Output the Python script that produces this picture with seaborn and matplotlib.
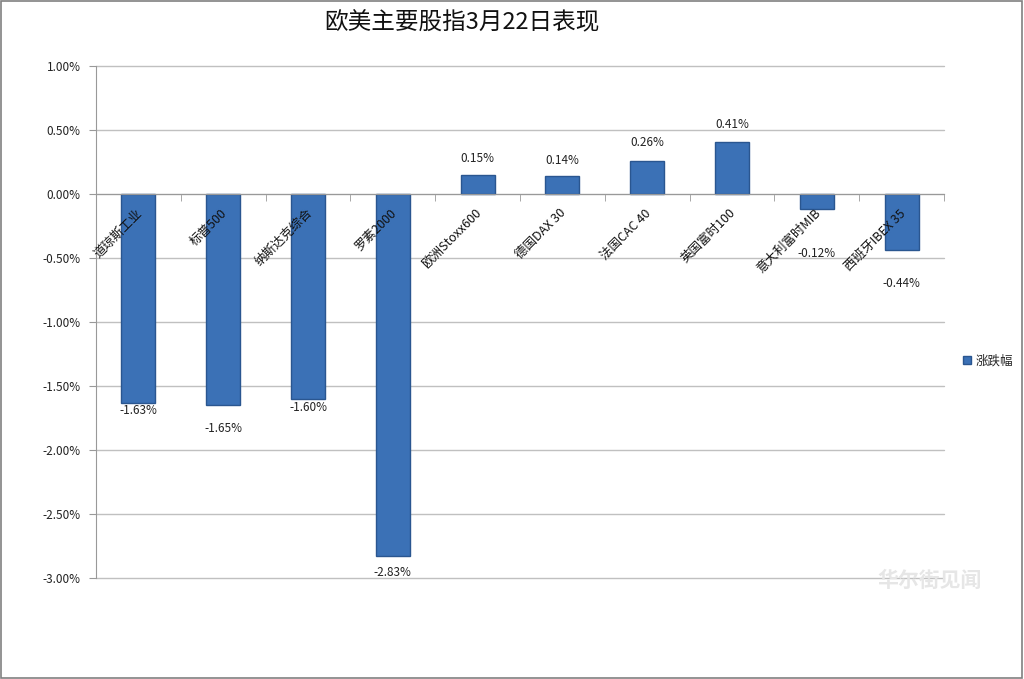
import pandas as pd
import matplotlib.pyplot as plt
import seaborn as sns
from matplotlib.patches import Rectangle, Patch
from matplotlib.ticker import FuncFormatter, FixedLocator

# data
indices = ['道琼斯工业', '标普500', '纳斯达克综合', '罗素2000', '欧洲Stoxx600',
           '德国DAX 30', '法国CAC 40', '英国富时100', '意大利富时MIB', '西班牙IBEX 35']
changes = [-1.63, -1.65, -1.60, -2.83, 0.15, 0.14, 0.26, 0.41, -0.12, -0.44]
series_name = '涨跌幅'
title = '欧美主要股指3月22日表现'

# label offsets below/above bar ends (points), as placed in the original chart
label_offsets = [6, 17, 6, 12, 12, 11, 13, 12, 32, 24]

data = pd.DataFrame({'index': indices, 'change': changes})

sns.set_style('white')
plt.rcParams['font.family'] = ['Noto Sans CJK SC', 'DejaVu Sans']

fig = plt.figure(figsize=(10.24, 6.79), dpi=100)
ax = fig.add_axes([96 / 1024, 1 - 578 / 679, 848 / 1024, 512 / 679])

bar_color = '#3b71b6'
sns.barplot(x='index', y='change', data=data, color=bar_color, width=0.4,
            edgecolor='#2a5690', linewidth=1, ax=ax, saturation=1, zorder=2)

ax.set_ylim(-3.0, 1.0)
ax.set_xlim(-0.5, len(indices) - 0.5)
ax.set_yticks([1.0, 0.5, 0.0, -0.5, -1.0, -1.5, -2.0, -2.5, -3.0])
ax.yaxis.set_major_formatter(FuncFormatter(lambda v, p: f'{v:.2f}%'))
ax.yaxis.grid(True, color='#c0c0c0', linewidth=1)
for gl in ax.get_ygridlines():
    gl.set_clip_on(False)
ax.set_axisbelow(True)
ax.tick_params(axis='y', labelsize=8.5, labelcolor='#222222', length=5, left=True,
               width=0.8, color='#999999', pad=6)

# x axis along zero
ax.spines['bottom'].set_position(('data', 0))
ax.spines['bottom'].set_color('#999999')
ax.spines['left'].set_color('#999999')
ax.spines['top'].set_visible(False)
ax.spines['right'].set_visible(False)
ax.set_xlabel('')
ax.set_ylabel('')

# tick marks at category boundaries
ax.xaxis.set_minor_locator(FixedLocator([i - 0.5 for i in range(len(indices) + 1)]))
ax.tick_params(axis='x', which='minor', length=5, color='#999999', bottom=True)
ax.set_xticks(range(len(indices)))
ax.set_xticklabels([])
ax.tick_params(axis='x', which='major', length=0)

# category labels drawn on top of bars
for i, name in enumerate(indices):
    ax.annotate(name, (i, 0), xytext=(-2, -9), textcoords='offset points',
                rotation=45, ha='right', va='top', rotation_mode='anchor',
                fontsize=9, color='#111111', zorder=5)

# value labels
for i, v in enumerate(changes):
    off = label_offsets[i]
    if v >= 0:
        ax.annotate(f'{v:.2f}%', (i, v), xytext=(0, off), textcoords='offset points',
                    ha='center', va='center', fontsize=8.5, color='#222222', zorder=5)
    else:
        ax.annotate(f'{v:.2f}%', (i, v), xytext=(0, -off), textcoords='offset points',
                    ha='center', va='center', fontsize=8.5, color='#222222', zorder=5)

# legend
handle = Patch(facecolor=bar_color, edgecolor='#2a5690', label=series_name)
fig.legend(handles=[handle], loc='center left', bbox_to_anchor=(952 / 1024, 1 - 361 / 679),
           frameon=False, fontsize=9, handlelength=0.6, handleheight=0.6,
           handletextpad=0.4)

fig.text(462 / 1024, 1 - 23 / 679, title, ha='center', va='center',
         fontsize=17, fontweight='normal', color='#111111')

# watermark
fig.text(930 / 1024, 1 - 580 / 679, '华尔街见闻', ha='center', va='center',
         fontsize=15, fontweight='bold', color='#e6e6e6')

# border around the chart area
fig.patches.append(Rectangle((0.001, 0.001), 0.997, 0.997, transform=fig.transFigure,
                             fill=False, edgecolor='#808080', linewidth=1.2))

fig.savefig('out.png', dpi=100)
